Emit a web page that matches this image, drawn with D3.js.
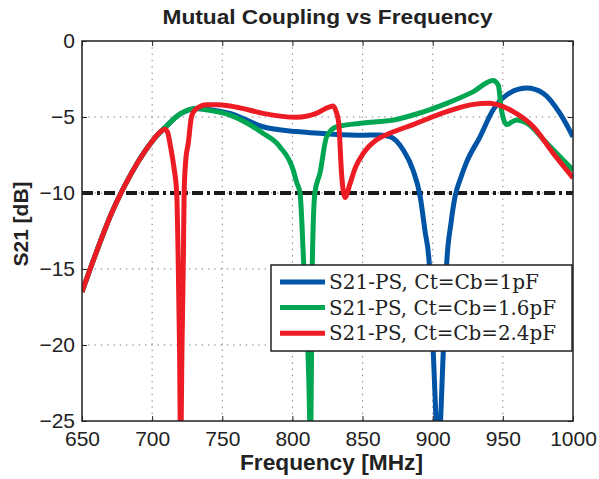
<!DOCTYPE html>
<html><head><meta charset="utf-8">
<script src="https://cdn.jsdelivr.net/npm/d3@7"></script>
<style>body{margin:0;background:#fff;} svg{display:block;}</style>
</head><body><svg id="c" width="599" height="479"></svg>
<script>
const title = "Mutual Coupling vs Frequency";
const xLabel = "Frequency [MHz]";
const yLabel = "S21 [dB]";
const xTicks = [650,700,750,800,850,900,950,1000];
const yTicks = [0,-5,-10,-15,-20,-25];
const seriesNames = ["S21-PS, Ct=Cb=1pF","S21-PS, Ct=Cb=1.6pF","S21-PS, Ct=Cb=2.4pF"];
const seriesColors = ["#0054a6","#00a651","#ed1c24"];
const threshold = -10;

const freq1 = [650,660,670,680,690,700,710,720,732,740,755.5,779,803,827,850,862,869.5,879,886,891,894.5,897.5,900.4,904,907.5,910,913,916,920,924,933.7,943,952.7,967,978.8,990.7,1000];
const s21_1 = [-16.5,-13.95,-11.56,-9.6,-7.94,-6.6,-5.62,-4.8,-4.45,-4.5,-4.76,-5.64,-5.96,-6.12,-6.2,-6.18,-6.29,-7.17,-8.5,-10.2,-12.5,-14.6,-20.5,-27,-20.5,-14.6,-12,-10.2,-9,-8,-6.3,-4.54,-3.55,-3.1,-3.44,-4.76,-6.3];

const freq2 = [650,660,670,680,690,700,710,720,732,740,755.5,779,791,800.6,803,805.4,808.2,811.6,813,814.1,816,819.6,824.4,831.5,850.5,862.4,869.5,886,910,929,943,946.7,949,952.7,956,959.8,967,981,1000];
const s21_2 = [-16.5,-13.95,-11.56,-9.6,-7.94,-6.6,-5.62,-4.8,-4.43,-4.55,-4.87,-6.07,-6.95,-8.5,-9.3,-10,-15,-22,-27,-15,-10,-8.7,-6.3,-5.64,-5.4,-5.3,-5.24,-4.87,-4.1,-3.33,-2.6,-2.9,-4.54,-5.5,-5.35,-5.2,-5.4,-6.7,-8.5];

const freq3 = [650,660,670,680,690,700,705,709,711,713,715.5,717.5,718.5,719.5,720.3,721.3,722.3,722.8,724,725.8,728,731,739,746,755.5,762.6,779,803,817,826,829,831,833,835,837.5,841,845,850.5,860,869.5,886,910,929,940,957.4,971.7,986,1000];
const s21_3 = [-16.5,-13.95,-11.56,-9.6,-7.94,-6.6,-6.05,-5.8,-6.0,-6.9,-8.3,-10,-14,-20,-27,-20,-14,-10,-7.8,-6.7,-5.0,-4.5,-4.2,-4.2,-4.28,-4.4,-4.76,-5.02,-4.76,-4.35,-4.28,-4.6,-5.4,-8.7,-10.3,-9.4,-8.3,-7.4,-6.5,-6.07,-5.5,-4.65,-4.17,-4.1,-4.65,-5.64,-7.4,-9.0];

const allFreq = [freq1,freq2,freq3];
const allS21 = [s21_1,s21_2,s21_3];

const L=82,T=41,W=491,H=380;
const svg = d3.select("#c");
const x = d3.scaleLinear().domain([650,1000]).range([L,L+W]);
const y = d3.scaleLinear().domain([-25,0]).range([T+H,T]);
const sans = "'Liberation Sans', Arial, Helvetica, sans-serif";

// grid
const g = svg.append("g");
g.selectAll(".gx").data(xTicks.slice(1,-1)).enter().append("line")
 .attr("x1",d=>x(d)).attr("x2",d=>x(d)).attr("y1",T).attr("y2",T+H)
 .attr("stroke","#777").attr("stroke-width",1).attr("stroke-dasharray","1.3,5");
g.selectAll(".gy").data(yTicks.slice(1,-1)).enter().append("line")
 .attr("y1",d=>y(d)).attr("y2",d=>y(d)).attr("x1",L).attr("x2",L+W)
 .attr("stroke","#777").attr("stroke-width",1).attr("stroke-dasharray","1.3,5");

// threshold
svg.append("line").attr("x1",L).attr("x2",L+W).attr("y1",y(threshold)).attr("y2",y(threshold))
 .attr("stroke","#1a1a1a").attr("stroke-width",4).attr("stroke-dasharray","11,4,3,4");

// curves
svg.append("clipPath").attr("id","clip").append("rect").attr("x",L).attr("y",T).attr("width",W).attr("height",H);
const line = d3.line().curve(d3.curveMonotoneX);
const cg = svg.append("g").attr("clip-path","url(#clip)");
allFreq.forEach((f,i)=>{
  const pts = f.map((v,j)=>[x(v), y(allS21[i][j])]);
  cg.append("path").attr("d",line(pts)).attr("fill","none")
   .attr("stroke",seriesColors[i]).attr("stroke-width",5).attr("stroke-linejoin","round");
});

// axes
const fmt = d=>d3.format("d")(d).replace("-","\u2212");
const ax = svg.append("g").attr("transform",`translate(0,${T+H})`)
 .call(d3.axisBottom(x).tickValues(xTicks).tickSizeInner(-5).tickSizeOuter(0).tickPadding(10).tickFormat(d3.format("d")));
const ay = svg.append("g").attr("transform",`translate(${L},0)`)
 .call(d3.axisLeft(y).tickValues(yTicks).tickSizeInner(-5).tickSizeOuter(0).tickPadding(7).tickFormat(fmt));
const at = svg.append("g").attr("transform",`translate(0,${T})`)
 .call(d3.axisTop(x).tickValues(xTicks).tickSizeInner(-5).tickSizeOuter(0).tickFormat(""));
const ar = svg.append("g").attr("transform",`translate(${L+W},0)`)
 .call(d3.axisRight(y).tickValues(yTicks).tickSizeInner(-5).tickSizeOuter(0).tickFormat(""));
[ax,ay,at,ar].forEach(a=>{
  a.select(".domain").remove();
  a.selectAll("line").attr("stroke","#222").attr("stroke-width",1);
  a.selectAll("text").attr("font-family",sans).attr("font-size",21).attr("fill","#222");
});
svg.append("rect").attr("x",L).attr("y",T).attr("width",W).attr("height",H)
 .attr("fill","none").attr("stroke","#222").attr("stroke-width",1.5);

// titles
svg.append("text").attr("x",L+W/2).attr("y",23.5).attr("text-anchor","middle")
 .attr("font-family",sans).attr("font-weight","bold").attr("font-size",20).attr("fill","#222")
 .attr("textLength",330).attr("lengthAdjust","spacingAndGlyphs").text(title);
svg.append("text").attr("x",L+W/2+4).attr("y",470).attr("text-anchor","middle")
 .attr("font-family",sans).attr("font-weight","bold").attr("font-size",22).attr("fill","#222")
 .attr("textLength",183).attr("lengthAdjust","spacingAndGlyphs").text(xLabel);
svg.append("text").attr("transform",`translate(28,224) rotate(-90)`).attr("text-anchor","middle")
 .attr("font-family",sans).attr("font-weight","bold").attr("font-size",21).attr("fill","#222")
 .attr("textLength",85).attr("lengthAdjust","spacingAndGlyphs").text(yLabel);

// legend
const legendWidths = [210,227,227];
const lg = svg.append("g");
lg.append("rect").attr("x",271).attr("y",265).attr("width",301).attr("height",86)
 .attr("fill","#fff").attr("stroke","#222").attr("stroke-width",1.5);
seriesNames.forEach((n,i)=>{
  const yy = 282 + i*25.6;
  lg.append("line").attr("x1",280).attr("x2",325).attr("y1",yy).attr("y2",yy)
   .attr("stroke",seriesColors[i]).attr("stroke-width",5);
  lg.append("text").attr("x",329).attr("y",yy+7).attr("font-family","'DejaVu Serif', 'Liberation Serif', serif")
   .attr("font-size",20).attr("fill","#222")
   .attr("textLength",legendWidths[i]).attr("lengthAdjust","spacingAndGlyphs").text(n);
});
</script></body></html>
